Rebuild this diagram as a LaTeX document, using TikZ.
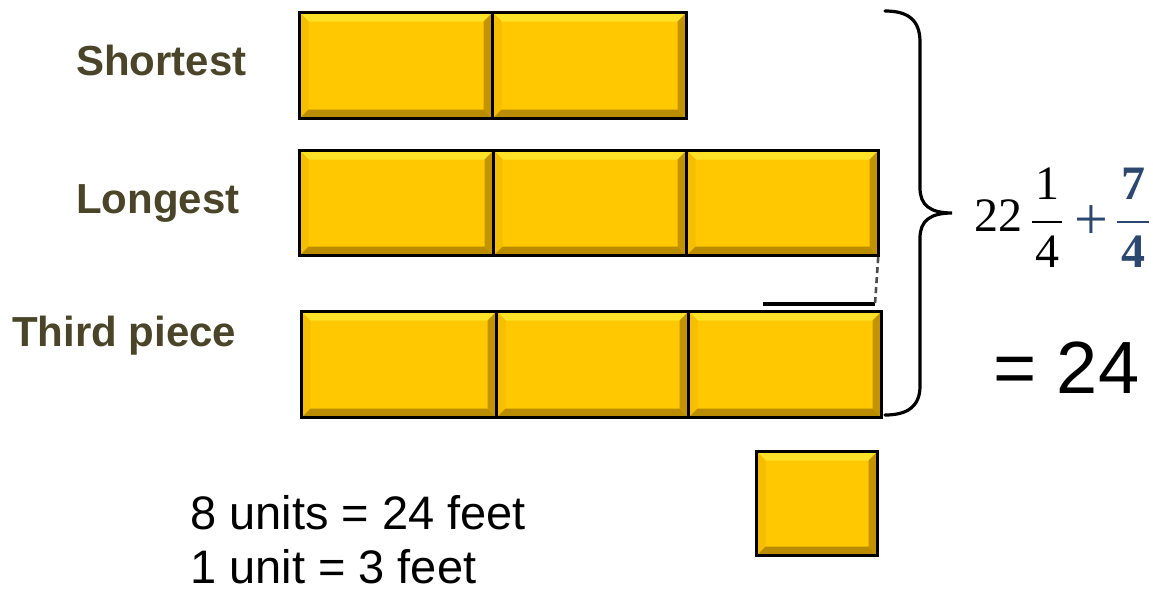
\documentclass[tikz,border=0pt]{standalone}
\usepackage{fontspec}
\setmainfont{Liberation Sans}
\newfontfamily\numfont{Liberation Serif}
\definecolor{barfill}{RGB}{255,200,0}
\definecolor{bevtop}{RGB}{255,226,40}
\definecolor{bevleft}{RGB}{246,190,0}
\definecolor{bevright}{RGB}{196,148,0}
\definecolor{bevbot}{RGB}{186,140,0}
\definecolor{labelcol}{RGB}{74,68,40}
\definecolor{mathblue}{RGB}{44,72,110}
\tikzset{
  unitcell/.style={
    draw=black, line width=3.2pt, fill=barfill, inner sep=0pt,
    anchor=north west,
    path picture={
      \coordinate (nw) at (path picture bounding box.north west);
      \coordinate (ne) at (path picture bounding box.north east);
      \coordinate (sw) at (path picture bounding box.south west);
      \coordinate (se) at (path picture bounding box.south east);
      \fill[bevtop] (nw) -- (ne) -- ([shift={(-9pt,-9pt)}]ne) -- ([shift={(9pt,-9pt)}]nw) -- cycle;
      \fill[bevleft] (nw) -- (sw) -- ([shift={(9pt,9pt)}]sw) -- ([shift={(9pt,-9pt)}]nw) -- cycle;
      \fill[bevright] (ne) -- (se) -- ([shift={(-9pt,9pt)}]se) -- ([shift={(-9pt,-9pt)}]ne) -- cycle;
      \fill[bevbot] (sw) -- (se) -- ([shift={(-9pt,9pt)}]se) -- ([shift={(9pt,9pt)}]sw) -- cycle;
    }
  },
  rowlabel/.style={anchor=base west, inner sep=0pt, text=labelcol,
    font=\fontsize{42}{50}\selectfont\bfseries},
  plaintext/.style={anchor=base west, inner sep=0pt, text=black,
    font=\fontsize{47}{54}\selectfont},
  brace/.style={draw=black, line width=3.2pt, line cap=round},
  numtext/.style={anchor=base, inner sep=0pt, font=\numfont\fontsize{48}{54}\selectfont},
  boldnum/.style={numtext, text=mathblue, font=\numfont\bfseries\fontsize{48}{54}\selectfont},
  fracbar/.style={line width=2.2pt},
}
\begin{document}
\begin{tikzpicture}[x=1pt,y=-1pt]
\useasboundingbox (0,0) rectangle (1153,592);

% shortest piece: two units
\node[unitcell, minimum width=193pt, minimum height=106pt] (s1) at (298,11) {};
\node[unitcell, minimum width=194pt, minimum height=106pt] (s2) at (491,11) {};

% longest piece: three units
\node[unitcell, minimum width=194pt, minimum height=105pt] (l1) at (298,149) {};
\node[unitcell, minimum width=193pt, minimum height=105pt] (l2) at (492,149) {};
\node[unitcell, minimum width=192pt, minimum height=105pt] (l3) at (685,149) {};

% third piece: three units
\node[unitcell, minimum width=195pt, minimum height=106pt] (t1) at (300,310) {};
\node[unitcell, minimum width=192pt, minimum height=106pt] (t2) at (495,310) {};
\node[unitcell, minimum width=193pt, minimum height=106pt] (t3) at (687,310) {};

% one unit on its own
\node[unitcell, minimum width=121pt, minimum height=104pt] (u) at (755,450) {};

% difference marker between longest and third piece
\coordinate (barL) at (763,304);
\coordinate (barR) at (875,304);
\draw[line width=4pt] (barL) -- (barR);
\draw[gray!60!black, dashed, dash pattern=on 6pt off 4pt, line width=2.6pt]
  ([xshift=-2pt]l3.south east) -- (barR);

% row labels
\node[rowlabel] (lshort) at (76,75) {Shortest};
\node[rowlabel] (llong) at (76,213) {Longest};
\node[rowlabel] (lthird) at (12,346) {Third piece};

% brace gathering the three pieces
\coordinate (btop) at (885,11);
\coordinate (btip) at (952,213);
\coordinate (bbot) at (885,415);
\draw[brace] (btop) .. controls (908,11) and (920,20) .. (920,42)
  -- (920,188) .. controls (920,205) and (930,213) .. (btip)
  .. controls (930,213) and (920,221) .. (920,238)
  -- (920,386) .. controls (920,406) and (908,415) .. (bbot);

% total: 22 1/4 + 7/4
\node[numtext, anchor=base west] (whole) at (974,231) {22};
\node[numtext] (num1) at (1047,199) {1};
\node[numtext] (den1) at (1047,267) {4};
\draw[fracbar] (1032,222) -- (1062,222);
\node[numtext, text=mathblue, font=\numfont\fontsize{60}{66}\selectfont] (plus) at (1091,239) {+};
\node[boldnum] (num2) at (1133,199) {7};
\node[boldnum] (den2) at (1133,267) {4};
\draw[fracbar, mathblue] (1117,222) -- (1149,222);

\node[anchor=base west, inner sep=0pt, font=\fontsize{74}{84}\selectfont] (eq) at (993,393) {= 24};

% unit conversion
\node[plaintext] (conv1) at (190,529) {8 units = 24 feet};
\node[plaintext] (conv2) at (190,583) {1 unit = 3 feet};
\end{tikzpicture}
\end{document}
